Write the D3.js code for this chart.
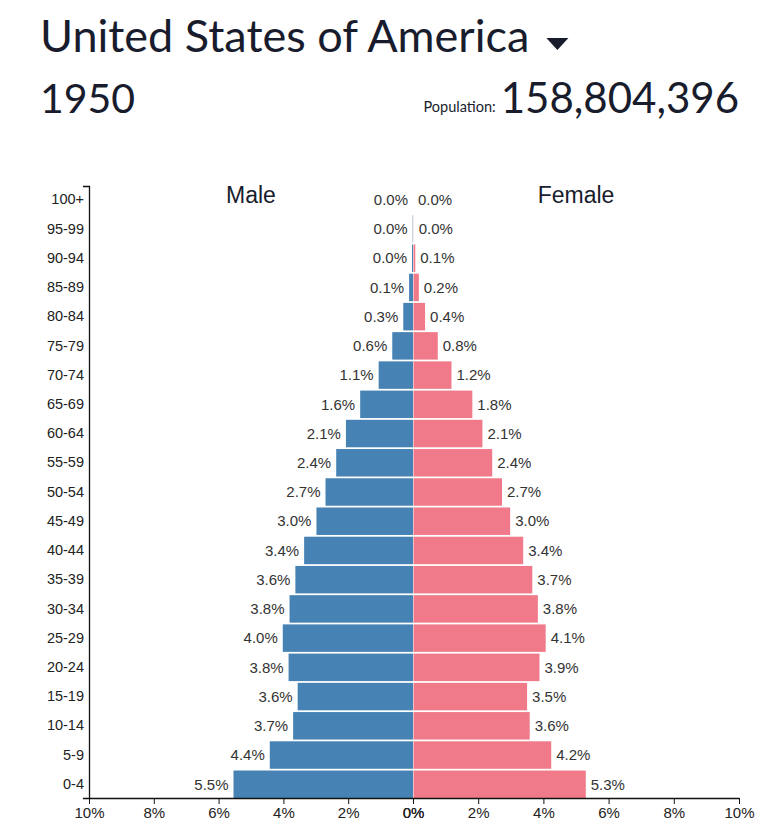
<!DOCTYPE html>
<html>
<head>
<meta charset="utf-8">
<script src="https://cdn.jsdelivr.net/npm/d3@7"></script>
<style>
  body {margin: 0; background: #fff;}
  svg text {font-family: "Liberation Sans", Arial, sans-serif;}
  .head {font-family: Lato, "Open Sans", sans-serif !important; fill: #181c2c;}
</style>
</head>
<body>
<div id="graph"></div>
<script>
var country = 'United States of America'
var year = '1950'
var population = 158804396

var ages = ['100+', '95-99', '90-94', '85-89', '80-84', '75-79', '70-74', '65-69', '60-64',
  '55-59', '50-54', '45-49', '40-44', '35-39', '30-34', '25-29', '20-24', '15-19',
  '10-14', '5-9', '0-4']
var male = [0.0, 0.01, 0.03, 0.12, 0.30, 0.64, 1.06, 1.63, 2.07, 2.37, 2.70, 2.98,
  3.36, 3.63, 3.81, 4.02, 3.84, 3.56, 3.70, 4.42, 5.54]
var female = [0.0, 0.02, 0.07, 0.18, 0.37, 0.76, 1.18, 1.82, 2.13, 2.43, 2.73, 2.98,
  3.38, 3.66, 3.83, 4.07, 3.88, 3.50, 3.58, 4.24, 5.30]
var xTicks = [0, 2, 4, 6, 8, 10]

var blue = '#4682b4'
var pink = '#f07a89'
var ink = '#181c2c'

var W = 761, H = 838
var svg = d3.select('#graph').append('svg').attr('width', W).attr('height', H)

// header
var title = svg.append('text').attr('class', 'head')
  .attr('x', 40).attr('y', 52).attr('font-size', 45)
  .text(country)
var tw = title.node().getComputedTextLength()
svg.append('path')
  .attr('d', d3.symbol(d3.symbolTriangle, 210)())
  .attr('transform', `translate(${40 + tw + 28},42) scale(1,-0.63)`)
  .attr('fill', ink)

svg.append('text').attr('class', 'head')
  .attr('x', 40).attr('y', 113).attr('font-size', 41)
  .text(year)
svg.append('text').attr('class', 'head')
  .attr('x', 739).attr('y', 113).attr('font-size', 42).attr('text-anchor', 'end')
  .text(d3.format(',')(population))
  .each(function(){
    var w = this.getComputedTextLength()
    svg.append('text').attr('class', 'head')
      .attr('x', 739 - w - 5).attr('y', 112).attr('font-size', 14.5).attr('text-anchor', 'end')
      .text('Population:')
  })

// scales
var mid = 413
var xL = d3.scaleLinear().domain([10, 0]).range([89, mid])
var xR = d3.scaleLinear().domain([0, 10]).range([mid, 739])
var y = d3.scaleBand().domain(ages).range([186, 798]).paddingInner(0.06)

var rows = ages.map((a, i) => ({age: a, m: male[i], f: female[i]}))
var fmt = d => d.toFixed(1) + '%'

svg.selectAll('rect.m').data(rows).join('rect')
  .attr('x', d => xL(d.m)).attr('width', d => mid - xL(d.m))
  .attr('y', d => y(d.age)).attr('height', y.bandwidth())
  .attr('fill', blue)
svg.selectAll('rect.f').data(rows).join('rect')
  .attr('x', mid + 0.5).attr('width', d => Math.max(0, xR(d.f) - mid - 0.5))
  .attr('y', d => y(d.age)).attr('height', y.bandwidth())
  .attr('fill', pink)

svg.selectAll('text.ml').data(rows).join('text')
  .attr('x', d => xL(d.m) - 5).attr('y', d => y(d.age) + y.bandwidth() / 2)
  .attr('dy', '0.35em').attr('text-anchor', 'end')
  .attr('font-size', 15).attr('fill', '#333')
  .text(d => fmt(d.m))
svg.selectAll('text.fl').data(rows).join('text')
  .attr('x', d => xR(d.f) + 5).attr('y', d => y(d.age) + y.bandwidth() / 2)
  .attr('dy', '0.35em')
  .attr('font-size', 15).attr('fill', '#333')
  .text(d => fmt(d.f))

svg.append('text').attr('x', (89 + mid) / 2).attr('y', 203)
  .attr('text-anchor', 'middle').attr('font-size', 23).attr('fill', ink).text('Male')
svg.append('text').attr('x', (mid + 739) / 2).attr('y', 203)
  .attr('text-anchor', 'middle').attr('font-size', 23).attr('fill', ink).text('Female')

// axes
var yAx = svg.append('g').attr('transform', 'translate(89,0)')
  .call(d3.axisLeft(y).tickSize(0).tickSizeOuter(6).tickPadding(5))
var gL = svg.append('g').attr('class', 'xax').attr('transform', 'translate(0,798)')
  .call(d3.axisBottom(xL).tickValues(xTicks).tickFormat(d => d + '%').tickSizeOuter(0))
var gR = svg.append('g').attr('class', 'xax').attr('transform', 'translate(0,798)')
  .call(d3.axisBottom(xR).tickValues(xTicks).tickFormat(d => d + '%').tickSizeOuter(0))
svg.selectAll('.domain').attr('stroke', '#111').attr('stroke-width', 1.3)
svg.selectAll('.tick line').attr('stroke', '#111')
yAx.selectAll('text').attr('font-size', 14.5).attr('fill', '#222').attr('font-family', '"Liberation Sans", Arial')
svg.selectAll('.xax .tick text')
  .attr('font-size', 15).attr('fill', '#222').attr('font-family', '"Liberation Sans", Arial')
</script>
</body>
</html>
